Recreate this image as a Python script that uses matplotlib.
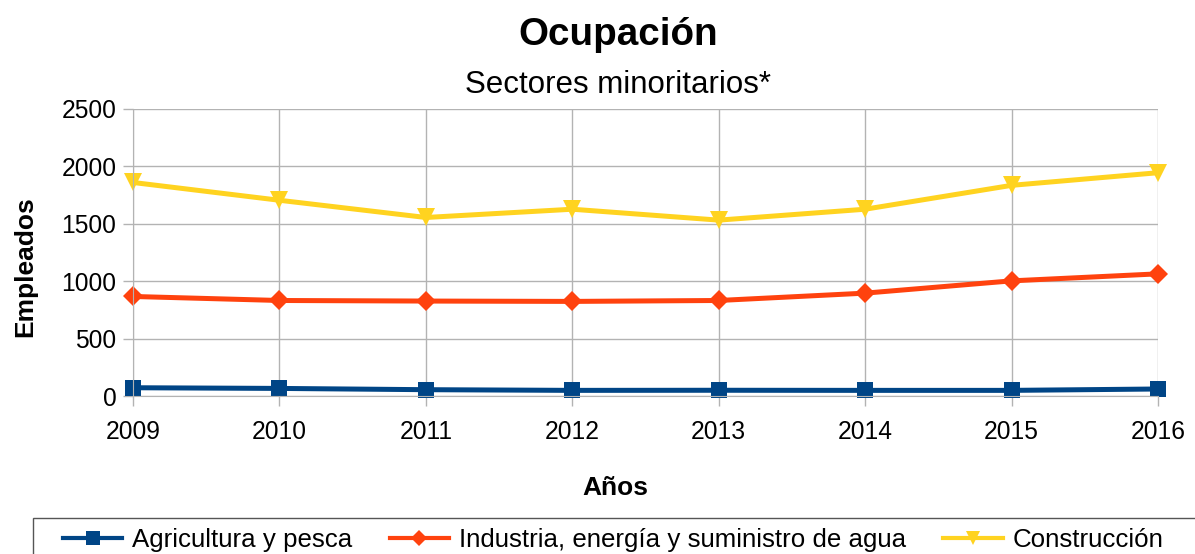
import matplotlib.pyplot as plt
from matplotlib.patches import Rectangle

plt.rcParams["font.family"] = ["Liberation Sans", "DejaVu Sans"]

W, H = 1195, 554

years = [2009, 2010, 2011, 2012, 2013, 2014, 2015, 2016]
agricultura = [72, 66, 55, 49, 50, 49, 49, 61]
industria = [867, 832, 827, 824, 832, 896, 1003, 1064]
construccion = [1860, 1705, 1555, 1627, 1532, 1627, 1835, 1945]

yticks = [0, 500, 1000, 1500, 2000, 2500]

SERIES = [
    (agricultura, dict(color="#004586", marker="s", markersize=12, label="Agricultura y pesca")),
    (industria, dict(color="#ff420e", marker="D", markersize=10, label="Industria, energía y suministro de agua")),
    (construccion, dict(color="#ffd320", marker="v", markersize=13, label="Construcción")),
]

GRID = "#b3b3b3"

fig = plt.figure(figsize=(W / 100, H / 100), dpi=100)
ax = fig.add_axes([133 / W, 1 - 396 / H, (1158 - 133) / W, (396 - 109) / H])

for values, style in SERIES:
    ax.plot(years, values, linewidth=3.6, markeredgewidth=0, clip_on=False,
            solid_joinstyle="round", **style)

ax.set_xlim(years[0], years[-1])
ax.set_ylim(yticks[0], yticks[-1])
ax.set_xticks(years)
ax.set_yticks(yticks)
ax.grid(True, color=GRID, linewidth=1)
ax.set_axisbelow(True)
for side in ("top", "right"):
    ax.spines[side].set_visible(False)
for side in ("left", "bottom"):
    ax.spines[side].set_color(GRID)
ax.tick_params(axis="both", colors=GRID, labelcolor="black", labelsize=17.7,
               length=7, width=1, direction="out")
ax.tick_params(axis="x", pad=10)
ax.tick_params(axis="y", pad=5)

fig.text(618 / W, 1 - 45 / H, "Ocupación", ha="center", va="baseline",
         fontsize=27.8, fontweight="bold")
fig.text(618 / W, 1 - 93 / H, "Sectores minoritarios*", ha="center",
         va="baseline", fontsize=22.5)
fig.text(615 / W, 1 - 495 / H, "Años", ha="center", va="baseline",
         fontsize=19, fontweight="bold")
fig.text(25 / W, 1 - 267 / H, "Empleados", ha="center", va="center",
         rotation=90, fontsize=19, fontweight="bold")

# marco de la leyenda, se sale por la derecha y por abajo
fig.patches.append(Rectangle((32.5 / W, -0.05), 1.0, 0.05 + 1 - 518 / H,
                             transform=fig.transFigure, fill=False,
                             edgecolor="#555555", linewidth=1))
handles = [ax.lines[i] for i in range(3)]
leg = fig.legend(handles=handles, loc="center left",
                 bbox_to_anchor=(63 / W, 1 - 540 / H), ncol=3, frameon=False,
                 fontsize=18.6, borderpad=0, borderaxespad=0,
                 handlelength=2.3, handletextpad=0.37, columnspacing=1.45,
                 markerscale=0.8)
for line in leg.get_lines():
    line.set_linewidth(3)

fig.savefig("out.png", dpi=100)
